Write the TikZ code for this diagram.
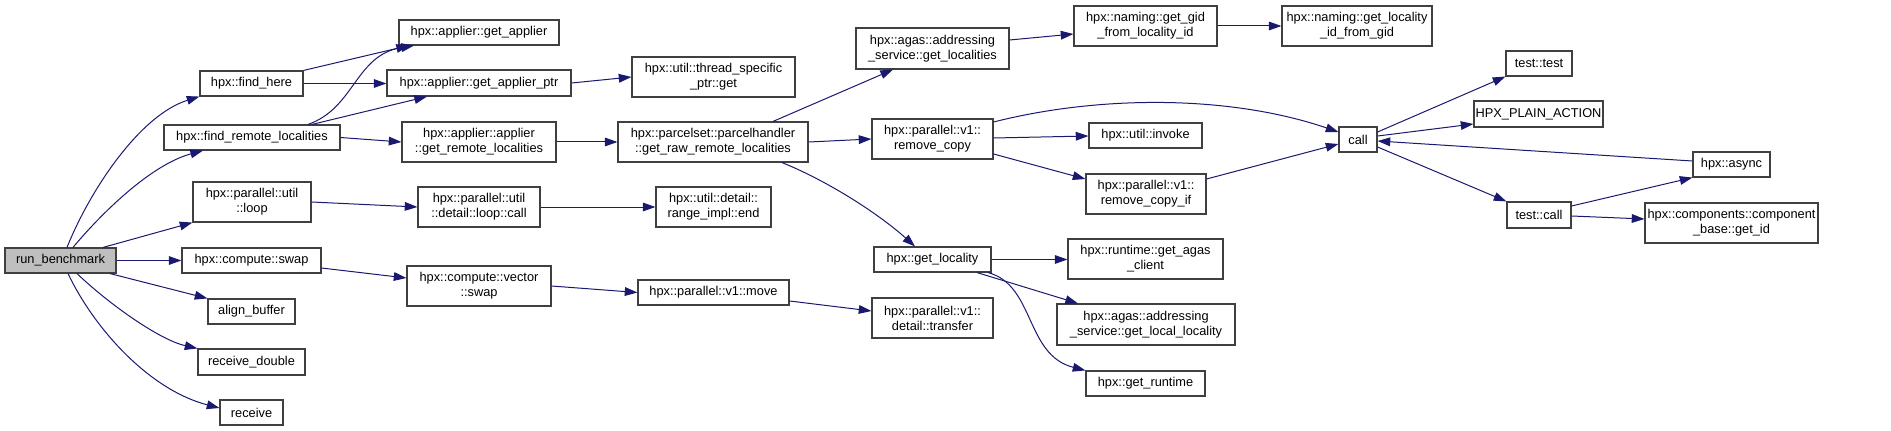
\documentclass[tikz,border=0pt]{standalone}
\usepackage{fontspec}
\setmainfont{Liberation Sans}
\usetikzlibrary{arrows.meta}
\definecolor{edgec}{HTML}{191970}
\definecolor{boxc}{HTML}{404040}
\definecolor{rootc}{HTML}{BFBFBF}
\tikzset{
  box/.style={draw=boxc,line width=0.85pt,fill=white,inner sep=0pt,align=center,
    font=\fontsize{9.6pt}{11.3pt}\selectfont},
  edge/.style={draw=edgec,line width=0.75pt,-{Triangle[length=9.5pt,width=6.5pt]}}
}
\newcommand\mybox[7][]{%
  \pgfmathsetmacro\bw{(#5-#3)*0.75}\pgfmathsetmacro\bh{(#6-#4)*0.75}%
  \node[box,minimum width=\bw pt,minimum height=\bh pt,#1] (#2) at ({(#3+#5)/2},{(#4+#6)/2}) {#7};}
\begin{document}
\begin{tikzpicture}[x=0.75pt,y=-0.75pt]
\useasboundingbox (0,0) rectangle (1891,431);
% nodes
\mybox[fill=rootc]{rb}{5}{248}{116}{273}{run\_benchmark}
\mybox{fh}{200}{71}{303}{96}{hpx::find\_here}
\mybox{frl}{164}{125}{340}{150}{hpx::find\_remote\_localities}
\mybox{loop}{193}{182}{311}{222}{hpx::parallel::util\\::loop}
\mybox{cswap}{182}{248}{321}{273}{hpx::compute::swap}
\mybox{ab}{208}{299}{295}{324}{align\_buffer}
\mybox{rd}{198}{349}{305}{375}{receive\_double}
\mybox{rc}{220}{400}{283}{425}{receive}
\mybox{ga}{399}{20}{559}{45}{hpx::applier::get\_applier}
\mybox{gap}{387}{70}{571}{96}{hpx::applier::get\_applier\_ptr}
\mybox{tsp}{632}{57}{795}{97}{hpx::util::thread\_specific\\\_ptr::get}
\mybox{grl}{402}{122}{556}{162}{hpx::applier::applier\\::get\_remote\_localities}
\mybox{ph}{618}{122}{808}{162}{hpx::parcelset::parcelhandler\\::get\_raw\_remote\_localities}
\mybox{lcall}{418}{187}{540}{227}{hpx::parallel::util\\::detail::loop::call}
\mybox{rie}{656}{187}{771}{227}{hpx::util::detail::\\range\_impl::end}
\mybox{vswap}{407}{266}{551}{306}{hpx::compute::vector\\::swap}
\mybox{mv}{638}{280}{789}{305}{hpx::parallel::v1::move}
\mybox{gl}{856}{28}{1009}{69}{hpx::agas::addressing\\\_service::get\_localities}
\mybox{ggid}{1074}{6}{1217}{46}{hpx::naming::get\_gid\\\_from\_locality\_id}
\mybox{glid}{1282}{6}{1432}{46}{hpx::naming::get\_locality\\\_id\_from\_gid}
\mybox{rcp}{872}{119}{993}{159}{hpx::parallel::v1::\\remove\_copy}
\mybox{inv}{1089}{123}{1202}{148}{hpx::util::invoke}
\mybox{rcpif}{1086}{174}{1206}{214}{hpx::parallel::v1::\\remove\_copy\_if}
\mybox{gloc}{874}{247}{991}{272}{hpx::get\_locality}
\mybox{agc}{1068}{239}{1223}{279}{hpx::runtime::get\_agas\\\_client}
\mybox{gll}{1057}{304}{1235}{345}{hpx::agas::addressing\\\_service::get\_local\_locality}
\mybox{grt}{1086}{371}{1205}{396}{hpx::get\_runtime}
\mybox{tr}{872}{298}{993}{338}{hpx::parallel::v1::\\detail::transfer}
\mybox{tt}{1506}{51}{1572}{76}{test::test}
\mybox{hpa}{1474}{101}{1603}{127}{HPX\_PLAIN\_ACTION}
\mybox{call}{1339}{127}{1377}{152}{call}
\mybox{as}{1693}{152}{1770}{177}{hpx::async}
\mybox{tc}{1507}{202}{1571}{228}{test::call}
\mybox{gid}{1645}{203}{1818}{243}{hpx::components::component\\\_base::get\_id}
% edges from run_benchmark
\draw[edge] (rb.north -| 67,0) .. controls (90,190) and (140,115) .. (fh.south west);
\draw[edge] (rb.north -| 73,0) .. controls (100,215) and (150,165) .. (frl.south -| 203,0);
\draw[edge] (rb.north -| 103,0) -- (loop.south west);
\draw[edge] (rb.east) -- (cswap.west);
\draw[edge] (rb.south -| 110,0) -- (ab.north west);
\draw[edge] (rb.south -| 77,0) .. controls (110,305) and (160,340) .. (rd.north west);
\draw[edge] (rb.south -| 68,0) .. controls (95,330) and (150,390) .. (rc.west |- 0,408);
% find_here / find_remote
\draw[edge] (fh.north east) -- (ga.south -| 409,0);
\draw[edge] (fh.east) -- (gap.west |- fh.east);
\draw[edge] (frl.north -| 308,0) .. controls (355,108) and (355,55) .. (ga.south -| 414,0);
\draw[edge] (frl.north -| 312,0) -- (gap.south -| 427,0);
\draw[edge] (frl.east) -- (grl.west);
\draw[edge] (gap.east) -- (tsp.west);
\draw[edge] (grl.east) -- (ph.west |- grl.east);
\draw[edge] (ph.north -| 773,0) -- (gl.south -| 893,0);
\draw[edge] (ph.east) -- (rcp.west);
\draw[edge] (ph.south -| 782,0) .. controls (830,182) and (880,215) .. (gloc.north -| 915,0);
\draw[edge] (loop.east) -- (lcall.west);
\draw[edge] (lcall.east) -- (rie.west);
\draw[edge] (cswap.east |- 0,268) -- (vswap.west |- 0,278);
\draw[edge] (vswap.east) -- (mv.west);
\draw[edge] (mv.east |- 0,301) -- (tr.west |- 0,311);
\draw[edge] (gl.east |- 0,40) -- (ggid.west |- 0,34);
\draw[edge] (ggid.east) -- (glid.west);
\draw[edge] (rcp.east |- 0,122) .. controls (1100,95) and (1230,95) .. (call.west |- 0,132);
\draw[edge] (rcp.east |- 0,138) -- (inv.west |- 0,136);
\draw[edge] (rcp.east |- 0,154) -- (rcpif.west |- 0,179);
\draw[edge] (rcpif.east |- 0,179) -- (call.west |- 0,144);
\draw[edge] (call.east |- 0,132) -- (tt.south west);
\draw[edge] (call.east |- 0,136) -- (hpa.west |- 0,124);
\draw[edge] (as.west |- 0,161) -- (call.east |- 0,141);
\draw[edge] (call.east |- 0,147) -- (tc.north west);
\draw[edge] (tc.east |- 0,206) -- (as.south west);
\draw[edge] (tc.east |- 0,216) -- (gid.west |- 0,219);
\draw[edge] (gloc.east) -- (agc.west |- gloc.east);
\draw[edge] (gloc.south -| 977,0) -- (gll.north -| 1078,0);
\draw[edge] (gloc.south -| 988,0) .. controls (1035,285) and (1025,355) .. (grt.north west);
\end{tikzpicture}
\end{document}
